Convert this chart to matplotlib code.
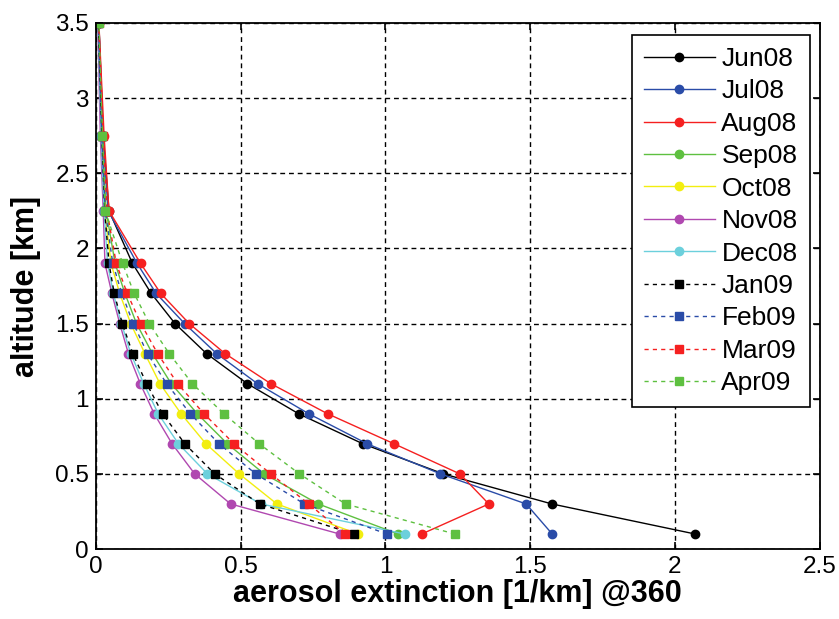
import matplotlib
import matplotlib.pyplot as plt

matplotlib.use('Agg')

plt.rcParams['font.family'] = ['Liberation Sans', 'DejaVu Sans']

# altitude levels [km]
altitude = [0.1, 0.3, 0.5, 0.7, 0.9, 1.1, 1.3, 1.5, 1.7, 1.9, 2.25, 2.75, 3.5]

# aerosol extinction [1/km] per month
jun08 = [2.07, 1.575, 1.20, 0.922, 0.70, 0.523, 0.382, 0.273, 0.191, 0.126, 0.045, 0.025, 0.010]
jul08 = [1.576, 1.486, 1.19, 0.937, 0.735, 0.558, 0.417, 0.306, 0.208, 0.142, 0.042, 0.024, 0.010]
aug08 = [1.125, 1.357, 1.257, 1.03, 0.80, 0.604, 0.446, 0.322, 0.224, 0.154, 0.045, 0.028, 0.010]
sep08 = [1.044, 0.768, 0.581, 0.454, 0.35, 0.26, 0.195, 0.14, 0.10, 0.066, 0.035, 0.022, 0.008]
oct08 = [0.905, 0.625, 0.495, 0.380, 0.294, 0.221, 0.169, 0.12, 0.082, 0.052, 0.030, 0.020, 0.008]
nov08 = [0.842, 0.465, 0.341, 0.263, 0.201, 0.153, 0.112, 0.082, 0.055, 0.031, 0.025, 0.015, 0.006]
dec08 = [1.067, 0.57, 0.385, 0.285, 0.215, 0.165, 0.12, 0.088, 0.060, 0.040, 0.028, 0.018, 0.007]
jan09 = [0.89, 0.566, 0.41, 0.307, 0.23, 0.175, 0.127, 0.091, 0.063, 0.045, 0.030, 0.020, 0.008]
feb09 = [1.005, 0.72, 0.552, 0.425, 0.326, 0.244, 0.178, 0.129, 0.089, 0.058, 0.032, 0.020, 0.008]
mar09 = [0.86, 0.735, 0.604, 0.477, 0.373, 0.282, 0.213, 0.155, 0.108, 0.070, 0.038, 0.025, 0.009]
apr09 = [1.24, 0.862, 0.703, 0.564, 0.442, 0.333, 0.253, 0.184, 0.132, 0.092, 0.032, 0.022, 0.010]

months = ["Jun08", "Jul08", "Aug08", "Sep08", "Oct08", "Nov08", "Dec08",
          "Jan09", "Feb09", "Mar09", "Apr09"]
series = [jun08, jul08, aug08, sep08, oct08, nov08, dec08, jan09, feb09, mar09, apr09]
colors = ["#000000", "#2a4ca8", "#f52020", "#5ec040", "#f2ee10", "#b048b0", "#6cd0dc",
          "#000000", "#2a4ca8", "#f52020", "#5ec040"]

fig = plt.figure(figsize=(8.39, 6.19), dpi=100)
ax = fig.add_axes([0.1144, 0.113, 0.8626, 0.85])

for name, vals, col in zip(months, series, colors):
    if name.endswith("08"):
        ax.plot(vals, altitude, color=col, linestyle="-", linewidth=1.0,
                marker="o", markersize=6, label=name)
    else:
        ax.plot(vals, altitude, color=col, linestyle=(0, (3, 3)), linewidth=1.0,
                marker="s", markersize=6, label=name)

ax.set_xlim(0, 2.5)
ax.set_ylim(0, 3.5)
ax.set_xticks([0, 0.5, 1, 1.5, 2, 2.5])
ax.set_xticklabels(["0", "0.5", "1", "1.5", "2", "2.5"])
ax.set_yticks([0, 0.5, 1, 1.5, 2, 2.5, 3, 3.5])
ax.set_yticklabels(["0", "0.5", "1", "1.5", "2", "2.5", "3", "3.5"])
ax.tick_params(direction="in", top=True, right=True, length=5, width=1.2,
               labelsize=17.5, pad=5)
ax.grid(True, color="black", linestyle=(0, (3.5, 2.8)), linewidth=1.0)
for sp in ax.spines.values():
    sp.set_linewidth(1.3)

ax.set_xlabel("aerosol extinction [1/km] @360", fontsize=22, fontweight="bold", labelpad=1)
ax.set_ylabel("altitude [km]", fontsize=22, fontweight="bold", labelpad=10)

leg = ax.legend(loc="upper right", bbox_to_anchor=(0.986, 0.977), fontsize=19,
                fancybox=False, framealpha=1, edgecolor="black", handlelength=2.7,
                labelspacing=0.32, borderpad=0.45, handletextpad=0.25, borderaxespad=0)
leg.get_frame().set_linewidth(1.2)

plt.savefig("out.png", dpi=100)
plt.close()
